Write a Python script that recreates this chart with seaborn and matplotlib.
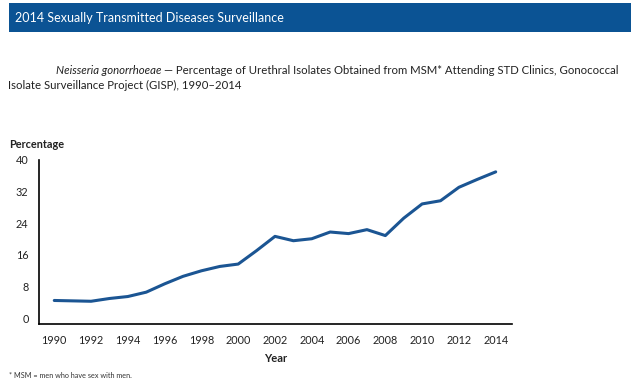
import matplotlib
matplotlib.use("Agg")
import matplotlib.pyplot as plt
import seaborn as sns
import pandas as pd
from matplotlib.patches import Rectangle
from matplotlib.ticker import MultipleLocator

years = list(range(1990, 2015))
percentages = [4.5, 4.4, 4.3, 5.0, 5.5, 6.6, 8.7, 10.6, 12.0, 13.1, 13.7, 17.1, 20.7,
               19.6, 20.1, 21.8, 21.4, 22.4, 20.9, 25.3, 28.9, 29.7, 33.1, 35.1, 37.0]
y_ticks = [0, 8, 16, 24, 32, 40]
x_ticks = list(range(1990, 2015, 2))

sns.set_style("white")
plt.rcParams['font.family'] = ['Lato', 'DejaVu Sans']

df = pd.DataFrame({"Year": years, "Percentage": percentages})

W, H = 640, 383
fig = plt.figure(figsize=(W / 100, H / 100), dpi=100)
ax = fig.add_axes([39 / W, (H - 323.7) / H, (511.7 - 39) / W, (323.7 - 160) / H])

sns.lineplot(data=df, x="Year", y="Percentage", ax=ax, color="#1b5593", linewidth=2.2)

ax.set_xlim(1989.17, 2014.87)
ax.set_ylim(-1.37, 40)
ax.set_xticks(x_ticks)
ax.xaxis.set_minor_locator(MultipleLocator(1))
ax.set_yticks(y_ticks)
ax.tick_params(axis="both", which="both", direction="out", color="black", labelsize=7.8,
               labelcolor="#222222")
ax.tick_params(axis="x", which="major", length=3, width=1, pad=5)
ax.tick_params(axis="x", which="minor", length=3, width=1)
ax.tick_params(axis="y", which="major", length=3, width=1, pad=4.5)
for s in ["top", "right"]:
    ax.spines[s].set_visible(False)
for s in ["left", "bottom"]:
    ax.spines[s].set_color("black")
    ax.spines[s].set_linewidth(1.2)
ax.set_xlabel("")
ax.set_ylabel("")
ax.grid(False)

# header bar
fig.patches.append(Rectangle((9 / W, 1 - 32 / H), (631 - 9) / W, (32 - 3) / H,
                             transform=fig.transFigure, facecolor="#0b5394",
                             edgecolor="none", zorder=0))
fig.text(15 / W, 1 - 18 / H, "2014 Sexually Transmitted Diseases Surveillance",
         color="white", fontsize=9, va="center", ha="left")

# subtitle
sub_size = 8.2
t1 = fig.text(56 / W, 1 - 70 / H, "Neisseria gonorrhoeae", fontstyle="italic",
              fontsize=sub_size, va="center", ha="left", color="#222222")
fig.canvas.draw()
bb = t1.get_window_extent()
fig.text((bb.x1 + 2) / W, 1 - 70 / H,
         "\u2014 Percentage of Urethral Isolates Obtained from MSM* Attending STD Clinics, Gonococcal",
         fontsize=sub_size, va="center", ha="left", color="#222222")
fig.text(8 / W, 1 - 85 / H, "Isolate Surveillance Project (GISP), 1990\u20132014",
         fontsize=sub_size, va="center", ha="left", color="#222222")

fig.text(9 / W, 1 - 144 / H, "Percentage", fontweight="bold", fontsize=7.8,
         va="center", ha="left", color="#222222")
fig.text(276 / W, 1 - 358 / H, "Year", fontweight="bold", fontsize=8,
         va="center", ha="center", color="#222222")
fig.text(9 / W, 1 - 375 / H, "* MSM = men who have sex with men.", fontsize=5.2,
         va="center", ha="left", color="#333333")

fig.savefig("out.png", dpi=100)
